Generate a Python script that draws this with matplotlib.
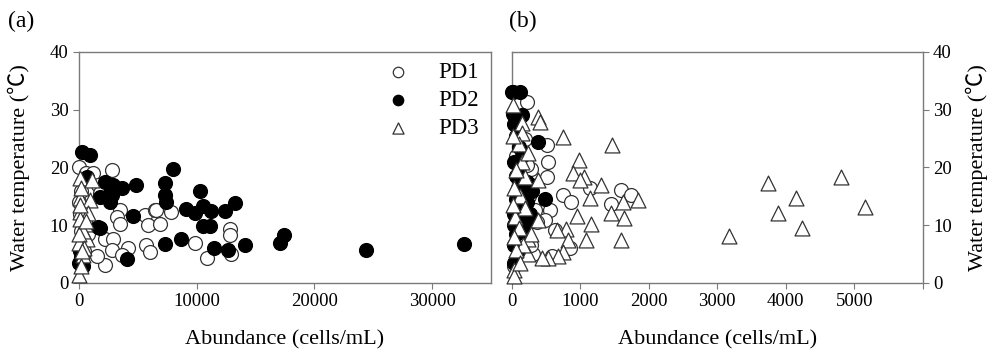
import numpy as np
import matplotlib.pyplot as plt

plt.rcParams['font.family'] = ['Liberation Serif', 'Noto Sans CJK SC']

# (a) all data, x = abundance (cells/mL), y = water temperature
a_pd1_x = [0, 590, 1210, 2770, 1640, 1780, 3470, 3190, 3470, 5590, 6440, 5870, 6860, 6580, 7850,
           2200, 2900, 2770, 4180, 5730, 6010, 2200, 3620, 1500, 9830, 12790, 12790, 10870, 12930,
           0, 100, 200, 300, 150, 400, 250, 500, 800]
a_pd1_y = [20.0, 19.0, 19.0, 19.6, 17.0, 15.5, 12.6, 11.5, 10.3, 11.8, 12.6, 10.0, 10.3, 12.6, 12.3,
           7.7, 7.7, 5.7, 6.0, 6.6, 5.4, 3.1, 4.8, 4.6, 6.9, 9.3, 8.3, 4.4, 5.0,
           14.0, 12.0, 9.0, 7.0, 16.0, 5.5, 3.0, 10.5, 8.5]
a_pd2_x = [230, 930, 650, 2200, 2900, 3620, 4830, 1780, 2770, 2630, 1640, 1780, 4550, 4120, 85,
           7280, 7990, 7280, 7370, 10300, 9120, 9830, 10530, 11240, 12420, 13270, 10530, 11100,
           7280, 8700, 11460, 12650, 14120, 17110, 17450, 24370, 32690,
           0, 150, 300, 50, 2630]
a_pd2_y = [22.7, 22.2, 18.4, 17.5, 17.0, 16.4, 17.0, 14.9, 15.2, 14.1, 9.7, 9.5, 11.6, 4.1, 3.4,
           17.3, 19.7, 15.2, 14.1, 15.9, 12.8, 12.1, 13.3, 12.5, 12.5, 13.8, 9.9, 9.9,
           6.75, 7.6, 6.1, 5.7, 6.5, 7.0, 8.3, 5.7, 6.7,
           3.5, 4.5, 3.0, 5.5, 15.5]
a_pd3_x = [85, 1080, 85, 930, 85, 790, 510, 650, 0, 365, 0, 200, 300, 100, 0, 400, 150, 250, 50, 600]
a_pd3_y = [18.1, 17.8, 14.7, 14.4, 12.3, 12.1, 10.3, 7.7, 6.9, 4.8, 1.4, 16.5, 9.0, 11.0, 8.5,
           6.0, 3.0, 5.5, 13.5, 10.8]

# (b)
b_pd1_x = [218, 509, 533, 509, 750, 872, 1138, 1598, 1744, 1453, 557, 484, 629, 847, 314, 581,
           338, 363, 281, 218, 100, 200, 60, 150, 250, 80, 180, 100, 30, 280]
b_pd1_y = [31.4, 23.9, 21.0, 18.4, 15.2, 14.1, 16.4, 16.1, 15.2, 13.7, 12.6, 10.9, 9.2, 6.0, 5.1, 4.6,
           12.6, 10.6, 19.7, 20.5, 27.0, 25.0, 22.0, 17.0, 15.0, 13.0, 9.0, 7.0, 3.0, 6.5]
b_pd2_x = [23, 121, 0, 20, 145, 80, 387, 484, 241, 200, 280, 150, 30, 60, 100, 30, 150, 60, 200,
           100, 250, 150, 40, 60, 30, 100, 30, 300, 200, 120,
           170, 230, 90, 260, 140, 180, 60, 220, 110, 40]
b_pd2_y = [33.0, 33.0, 33.0, 29.2, 29.1, 29.0, 24.5, 14.5, 15.5, 16.5, 17.0, 14.0, 27.5, 25.5, 23.5,
           21.0, 22.0, 18.5, 12.5, 11.0, 10.5, 9.5, 12.0, 8.5, 6.5, 5.5, 3.5, 16.0, 10.0, 13.0,
           15.0, 14.0, 16.5, 12.0, 11.5, 9.0, 14.5, 17.5, 20.0, 10.0]
b_pd3_x = [378, 411, 750, 1462, 978, 895, 1055, 993, 1308, 1138, 1622, 1840, 1453, 959, 1646, 1162,
           799, 654, 1090, 1598, 822, 750, 677, 532, 436, 241, 3172, 3739, 3884, 4155, 4237, 4804,
           5158, 23, 145, 150, 100, 150, 193, 387, 387, 241, 30, 30, 241, 60, 120, 200, 50, 100,
           280, 170, 60, 120, 20, 40, 20, 30]
b_pd3_y = [28.8, 27.9, 25.3, 23.9, 21.3, 19.0, 18.4, 17.8, 17.0, 14.7, 14.1, 14.4, 12.1, 11.6, 11.2,
           10.2, 9.3, 9.2, 7.4, 7.4, 7.4, 5.4, 4.6, 4.3, 4.3, 5.1, 8.1, 17.4, 12.1, 14.7, 9.5, 18.4,
           13.2, 30.8, 27.7, 26.0, 24.0, 20.9, 18.4, 17.8, 10.9, 7.7, 2.3, 1.2, 22.5, 19.5, 15.0,
           13.0, 11.5, 9.5, 8.5, 6.5, 5.8, 3.5, 25.5, 16.5, 13.5, 8.0]

a_xticks = [0, 10000, 20000, 30000]
b_xticks = [0, 1000, 2000, 3000, 4000, 5000]
yticks = [0, 10, 20, 30, 40]

gray = '#7a7a7a'
fig = plt.figure(figsize=(9.95, 3.59), dpi=100)
ax1 = fig.add_axes([0.0794, 0.2117, 0.414, 0.6435])
ax2 = fig.add_axes([0.5143, 0.2117, 0.413, 0.6435])


def draw(ax, p1, p2, p3):
    ax.scatter(*p1, s=100, facecolors='white', edgecolors='#333333', linewidths=0.9,
               label='PD1', clip_on=False, zorder=3)
    ax.scatter(*p2, s=100, facecolors='black', edgecolors='black', linewidths=0.9,
               label='PD2', clip_on=False, zorder=3)
    ax.scatter(*p3, s=115, marker='^', facecolors='white', edgecolors='#333333',
               linewidths=0.9, label='PD3', clip_on=False, zorder=3)
    for sp in ax.spines.values():
        sp.set_color(gray)
        sp.set_linewidth(1.0)
    ax.tick_params(direction='out', length=4, color=gray, labelsize=13.5)
    ax.set_ylim(0, 40)
    ax.set_yticks(yticks)
    ax.set_xlabel('Abundance (cells/mL)', fontsize=16, labelpad=14)


draw(ax1, (a_pd1_x, a_pd1_y), (a_pd2_x, a_pd2_y), (a_pd3_x, a_pd3_y))
ax1.set_xlim(0, 35000)
ax1.set_xticks(a_xticks)
ax1.set_ylabel('Water temperature (℃)', fontsize=16, labelpad=14)
ax1.legend(loc='upper right', frameon=False, fontsize=16.5, markerscale=0.75,
           handletextpad=1.0, handlelength=1.5, labelspacing=0.3,
           bbox_to_anchor=(1.02, 1.045))

draw(ax2, (b_pd1_x, b_pd1_y), (b_pd2_x, b_pd2_y), (b_pd3_x, b_pd3_y))
ax2.set_xlim(0, 6000)
ax2.set_xticks(b_xticks + [6000])
ax2.set_xticklabels([str(v) for v in b_xticks] + [''])
ax2.yaxis.tick_right()
ax2.yaxis.set_label_position('right')
ax2.set_ylabel('Water temperature (℃)', fontsize=16, labelpad=10)

fig.text(0.008, 0.925, '(a)', fontsize=17)
fig.text(0.512, 0.925, '(b)', fontsize=17)

fig.savefig('out.png', dpi=100)
